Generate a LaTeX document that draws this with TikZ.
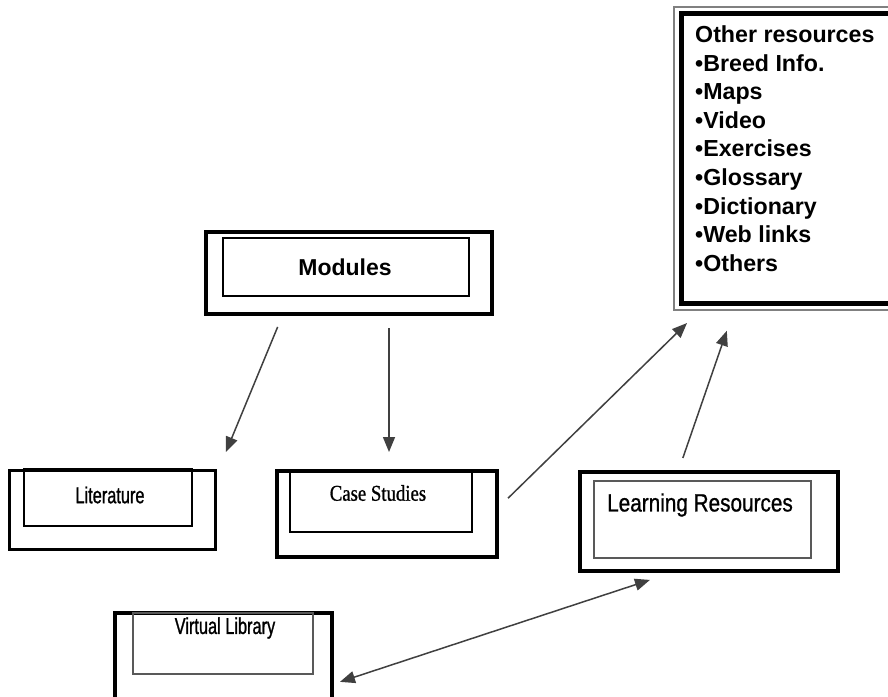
\documentclass[tikz,border=0pt]{standalone}
\usepackage{fontspec}
\usepackage{tikz}
\usetikzlibrary{arrows.meta,calc,positioning}
\newfontfamily\sansfont{Liberation Sans}
\newfontfamily\narrowfont[FakeStretch=0.71,FakeBold=1]{Liberation Sans}
\newfontfamily\midfont[FakeStretch=0.83,FakeBold=0.8]{Liberation Sans}
\newfontfamily\narrowserif[FakeStretch=0.83,FakeBold=0.8]{Liberation Serif}
\tikzset{%
	outerbox/.style = {draw, rectangle, line width=3.5pt, inner sep=0pt, outer sep=0pt},
	innerbox/.style = {draw, rectangle, line width=2.2pt, inner sep=0pt},
	thinbox/.style  = {draw=black!65, rectangle, line width=1.5pt, inner sep=0pt},
	boxtext/.style  = {inner sep=0pt, font=\narrowfont\fontsize{23}{27}\selectfont},
	listtext/.style = {inner sep=0pt, align=left, font=\sansfont\bfseries\fontsize{23.2}{28.6}\selectfont},
	link/.style     = {line width=1.5pt, draw=black!75, -{Triangle[length=15pt,width=12pt]}},
	bilink/.style   = {line width=1.5pt, draw=black!75, {Triangle[length=15pt,width=12pt]}-{Triangle[length=15pt,width=12pt]}},
}
\begin{document}
\begin{tikzpicture}[x=1pt,y=-1pt]
	\clip (0,0) rectangle (888,696);
	\fill[white] (0,0) rectangle (888,696);
	% other resources
	\node [outerbox, draw=black!50, line width=2pt, minimum width=226pt, minimum height=303pt] (other) at (787,158.5) {};
	\node [outerbox, line width=5pt, minimum width=212pt, minimum height=290pt] (otherIn) at (787,158) {};
	\node [listtext, anchor=north west] (list) at (695,25.5) {Other resources\\•Breed Info.\\•Maps\\•Video\\•Exercises\\•Glossary\\•Dictionary\\•Web links\\•Others};
	
	% modules
	\node [outerbox, line width=4pt, minimum width=286pt, minimum height=82pt] (modules) at (349,273) {};
	\node [innerbox, minimum width=246pt, minimum height=58pt] (modIn) at (346,267) {};
	\node [boxtext, font=\sansfont\bfseries\fontsize{23}{27}\selectfont] (modTxt) at (345,267) {Modules};
	
	% literature
	\node [outerbox, line width=3pt, minimum width=206pt, minimum height=79pt] (lit) at (112,509.5) {};
	\node [innerbox, minimum width=168pt, minimum height=57pt] (litIn) at (108,497.5) {};
	\node [boxtext] (litTxt) at (110,495) {Literature};
	
	% case studies
	\node [outerbox, line width=4pt, minimum width=220pt, minimum height=86pt] (case) at (387,514) {};
	\node [innerbox, line width=2pt, minimum width=182pt, minimum height=61pt] (caseIn) at (381,501.5) {};
	\node [boxtext, font=\narrowserif\fontsize{22.6}{27}\selectfont] (caseTxt) at (378,493) {Case Studies};
	
	% learning resources
	\node [outerbox, line width=4.5pt, minimum width=258pt, minimum height=99pt] (learn) at (709,521.5) {};
	\node [thinbox, minimum width=217pt, minimum height=77pt] (learnIn) at (702.5,519.5) {};
	\node [boxtext, font=\midfont\fontsize{25}{29}\selectfont] (learnTxt) at (700,505) {Learning Resources};
	
	% virtual library
	\node [outerbox, line width=3.5pt, minimum width=217pt, minimum height=117pt] (virt) at (223.5,671.5) {};
	\node [thinbox, minimum width=180pt, minimum height=61pt] (virtIn) at (223,643.5) {};
	\node [boxtext] (virtTxt) at (225,628) {Virtual Library};
	
	\draw[link, shorten <=14pt, shorten >=19.5pt] ($(modules.south)+(-66,0)$) -- ($(lit.north)+(106.5,0)$);
	\draw[link, shorten <=14pt, shorten >=19pt] ($(modules.south)+(40,0)$) -- ($(case.north)+(2,0)$);
	\draw[link, shorten <=15.4pt, shorten >=18.6pt] ($(case.east)+(0,-5)$) -- ($(other.south west)+(26.3,0)$);
	\draw[link, shorten <=14.8pt, shorten >=22pt] ($(learn.north)+(-31,0)$) -- ($(other.south west)+(60,0)$);
	\draw[bilink, shorten <=8.4pt, shorten >=28.5pt] ($(virt.east)+(0,13)$) -- ($(learn.south west)+(97,0)$);
\end{tikzpicture}
\end{document}
